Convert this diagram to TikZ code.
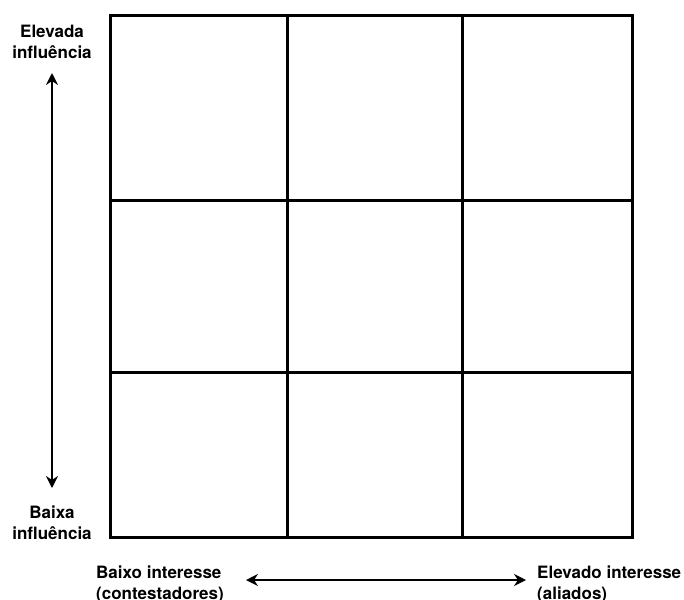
\documentclass[tikz,border=0pt]{standalone}
\usepackage{fontspec}
\setmainfont{TeX Gyre Heros}
\usetikzlibrary{arrows.meta}
\begin{document}
\begin{tikzpicture}[x=1pt,y=-1pt,
  gridline/.style={line width=3pt},
  axisarrow/.style={line width=2.6pt,{Stealth[length=12pt,width=12pt,inset=4pt]}-{Stealth[length=12pt,width=12pt,inset=4pt]}},
  lbl/.style={font=\fontsize{17}{21}\selectfont\bfseries,align=center,inner sep=0pt},
  lbll/.style={font=\fontsize{17}{21}\selectfont\bfseries,align=left,inner sep=0pt}]
\useasboundingbox (0,0) rectangle (684,599);
\draw[gridline] (110,16) rectangle (632,537);
\draw[gridline] (287,16) -- (287,537);
\draw[gridline] (462,16) -- (462,537);
\draw[gridline] (110,200) -- (632,200);
\draw[gridline] (110,372) -- (632,372);
\node[lbl] (top) at (52,42) {Elevada\\influência};
\node[lbl] (bot) at (52,523) {Baixa\\influência};
\coordinate (vt) at (52,73);
\coordinate (vb) at (52,488);
\draw[axisarrow] (vt) -- (vb);
\node[lbll,anchor=west] (left) at (96,584) {Baixo interesse\\(contestadores)};
\node[lbll,anchor=west] (right) at (537,584) {Elevado interesse\\(aliados)};
\coordinate (hl) at (246,580);
\coordinate (hr) at (526,580);
\draw[axisarrow] (hl) -- (hr);
\end{tikzpicture}
\end{document}
